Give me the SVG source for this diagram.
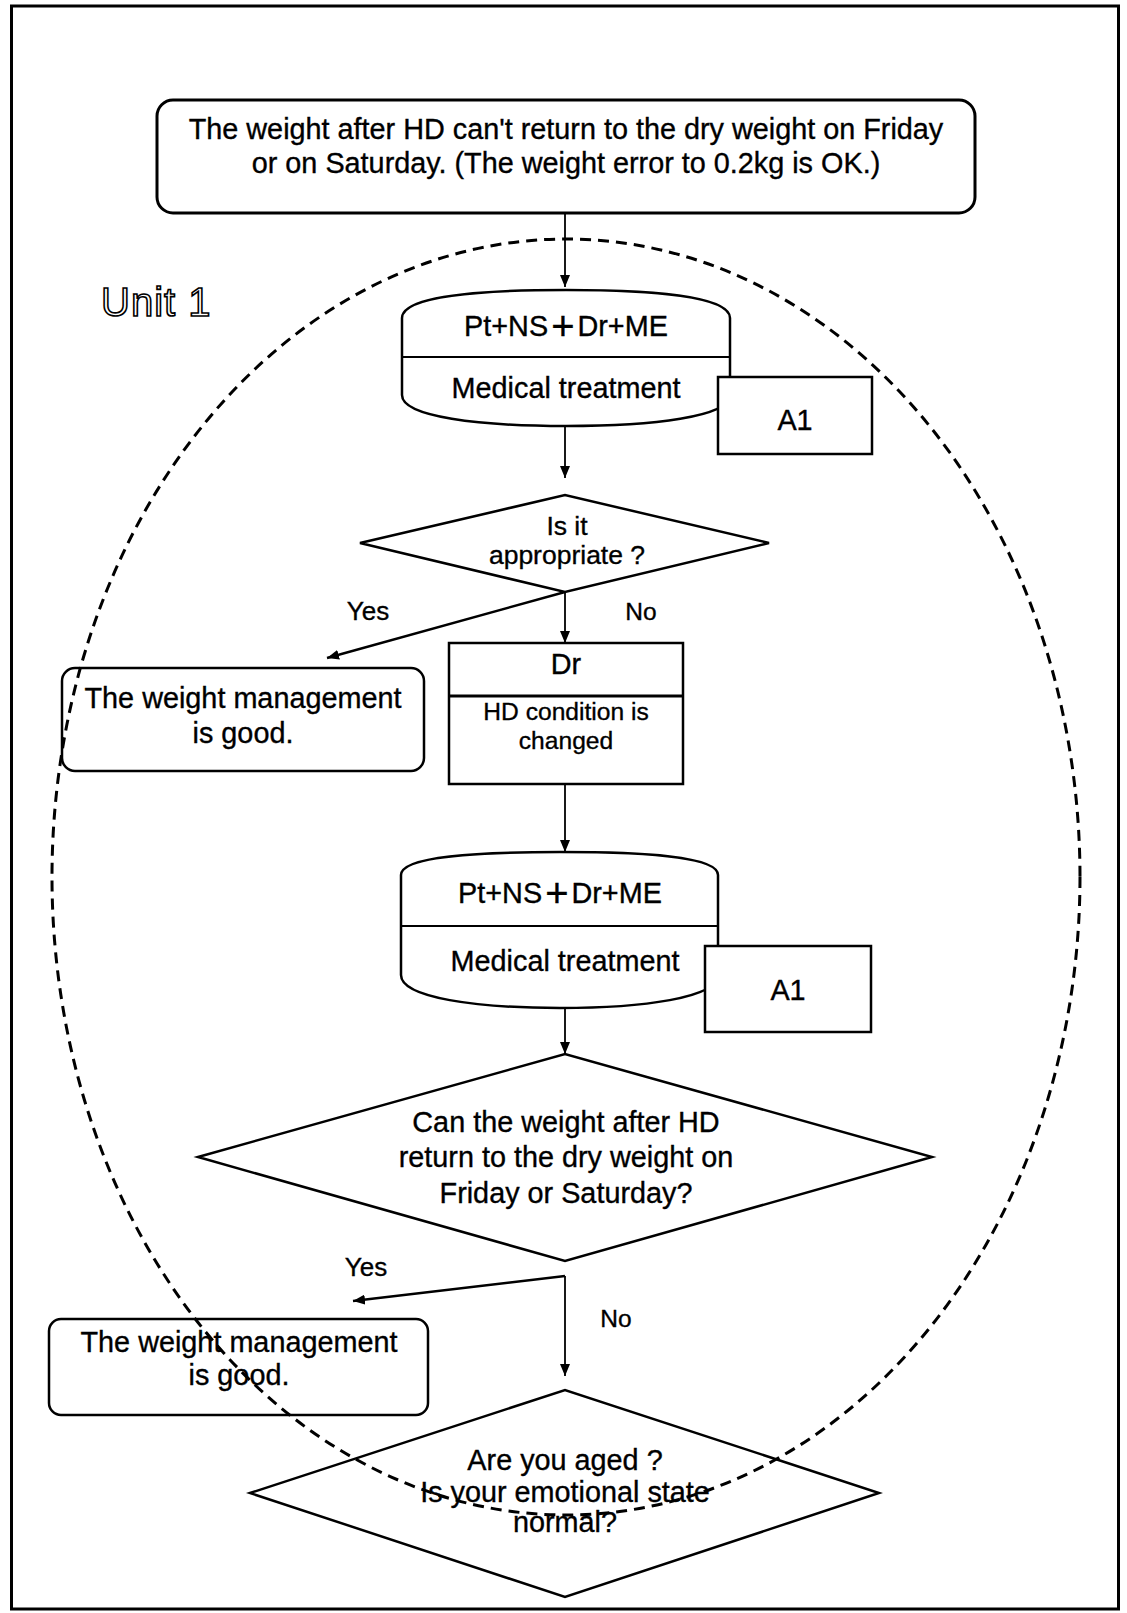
<svg xmlns="http://www.w3.org/2000/svg" width="1127" height="1613" viewBox="0 0 1127 1613">
  <style>
    .t { font-family: 'Liberation Sans', Arial, sans-serif; fill: #000; stroke: #000; stroke-width: 0.35; text-anchor: middle; }
    .f28 { font-size: 28.8px; }
    .f24 { font-size: 24.6px; }
    .yes { font-size: 26px; }
    .no { font-size: 24.5px; }
    .plus { font-size: 40px; }
    .box { fill: #fff; stroke: #000; stroke-width: 2.5; }
    .sep { fill: none; stroke: #000; stroke-width: 2; }
    .edge { fill: none; stroke: #000; stroke-width: 1.8; }
    .arrow { marker-end: url(#head); }
    .unit { fill: none; stroke: #000; stroke-width: 3; stroke-dasharray: 11 7; }
    .outline { font-family: 'Liberation Sans', Arial, sans-serif; font-size: 40px; fill: #fff; stroke: #000; stroke-width: 1.6; letter-spacing: 1px; }
  </style>
  <defs>
    <marker id="head" markerUnits="userSpaceOnUse" markerWidth="12" markerHeight="10" refX="12" refY="5" orient="auto">
      <path d="M0,0 L12,5 L0,10 Z" fill="#000"/>
    </marker>
  </defs>

  <rect width="1127" height="1613" fill="#fff"/>
  <!-- page frame -->
  <rect x="11.5" y="6" width="1107" height="1603" fill="none" stroke="#000" stroke-width="3"/>

  <!-- connectors -->
  <g id="connectors">
    <line class="edge arrow" x1="565" y1="213" x2="565" y2="287"/>
    <line class="edge arrow" x1="565" y1="426" x2="565" y2="478"/>
    <line class="edge arrow" x1="565" y1="592" x2="327" y2="658" style="stroke-width:2.4"/>
    <line class="edge arrow" x1="565" y1="592" x2="565" y2="643"/>
    <line class="edge arrow" x1="565" y1="784" x2="565" y2="852"/>
    <line class="edge arrow" x1="565" y1="1008" x2="565" y2="1054"/>
    <polyline class="edge arrow" points="565,1276 565,1376"/>
    <line class="edge arrow" x1="565" y1="1276" x2="353" y2="1301" style="stroke-width:2.4"/>
    <text class="t yes" x="368" y="620">Yes</text>
    <text class="t no" x="641" y="620">No</text>
    <text class="t yes" x="366" y="1276">Yes</text>
    <text class="t no" x="616" y="1327">No</text>
  </g>

  <!-- start condition -->
  <g id="start">
    <rect class="box" x="157" y="100" width="818" height="113" rx="16" style="stroke-width:3"/>
    <text class="t f28" x="566" y="139">The weight after HD can't return to the dry weight on Friday</text>
    <text class="t f28" x="566" y="173">or on Saturday. (The weight error to 0.2kg is OK.)</text>
  </g>

  <!-- first joint treatment -->
  <g id="treatment1">
    <path class="box" d="M402,395 L402,318 C402,296 480,290 566,290 C652,290 730,296 730,318 L730,395 C730,417 652,426 566,426 C480,426 402,417 402,395 Z"/>
    <line class="sep" x1="402" y1="357" x2="730" y2="357"/>
    <text class="t f28" x="566" y="336">Pt+NS<tspan class="plus" dx="3" dy="4">+</tspan><tspan dx="3" dy="-4">Dr+ME</tspan></text>
    <text class="t f28" x="566" y="398">Medical treatment</text>
  </g>
  <g id="a1-first">
    <rect class="box" x="718" y="377" width="154" height="77"/>
    <text class="t f28" x="795" y="430">A1</text>
  </g>

  <!-- first check -->
  <g id="check1">
    <polygon class="box" points="360,543 565,495 769,543 565,592"/>
    <text class="t" style="font-size:26.5px" x="567" y="535">Is it</text>
    <text class="t" style="font-size:26.5px" x="567" y="564">appropriate ?</text>
  </g>

  <g id="good1">
    <rect class="box" x="62" y="668" width="362" height="103" rx="13"/>
    <text class="t f28" x="243" y="708">The weight management</text>
    <text class="t f28" x="243" y="743">is good.</text>
  </g>

  <g id="doctor">
    <rect class="box" x="449" y="643" width="234" height="141"/>
    <line class="sep" x1="449" y1="696" x2="683" y2="696" style="stroke-width:3"/>
    <text class="t f28" x="566" y="674">Dr</text>
    <text class="t f24" x="566" y="720">HD condition is</text>
    <text class="t f24" x="566" y="749">changed</text>
  </g>

  <!-- second joint treatment -->
  <g id="treatment2">
    <path class="box" d="M401,975 L401,875 C401,856 478,852 560,852 C642,852 718,856 718,875 L718,975 C718,998 642,1008 560,1008 C478,1008 401,998 401,975 Z"/>
    <line class="sep" x1="401" y1="926" x2="718" y2="926"/>
    <text class="t f28" x="560" y="903">Pt+NS<tspan class="plus" dx="3" dy="4">+</tspan><tspan dx="3" dy="-4">Dr+ME</tspan></text>
    <text class="t f28" x="565" y="971">Medical treatment</text>
  </g>
  <g id="a1-second">
    <rect class="box" x="705" y="946" width="166" height="86"/>
    <text class="t f28" x="788" y="1000">A1</text>
  </g>

  <!-- second check -->
  <g id="check2">
    <polygon class="box" points="198,1157 565,1054 932,1157 565,1261"/>
    <text class="t f28" x="566" y="1132">Can the weight after HD</text>
    <text class="t f28" x="566" y="1167">return to the dry weight on</text>
    <text class="t f28" x="566" y="1203">Friday or Saturday?</text>
  </g>

  <g id="good2">
    <rect class="box" x="49" y="1319" width="379" height="96" rx="12"/>
    <text class="t f28" x="239" y="1352">The weight management</text>
    <text class="t f28" x="239" y="1385">is good.</text>
  </g>

  <!-- third check -->
  <g id="check3">
    <polygon class="box" points="250,1493 565,1390 879,1493 565,1597"/>
    <text class="t f28" x="565" y="1470">Are you aged ?</text>
    <text class="t f28" x="565" y="1502">Is your emotional state</text>
    <text class="t f28" x="565" y="1532">normal?</text>
  </g>

  <!-- unit boundary -->
  <g id="unit1">
    <ellipse class="unit" cx="566" cy="877" rx="514" ry="638"/>
    <text class="outline" x="101" y="316">Unit 1</text>
  </g>
</svg>
